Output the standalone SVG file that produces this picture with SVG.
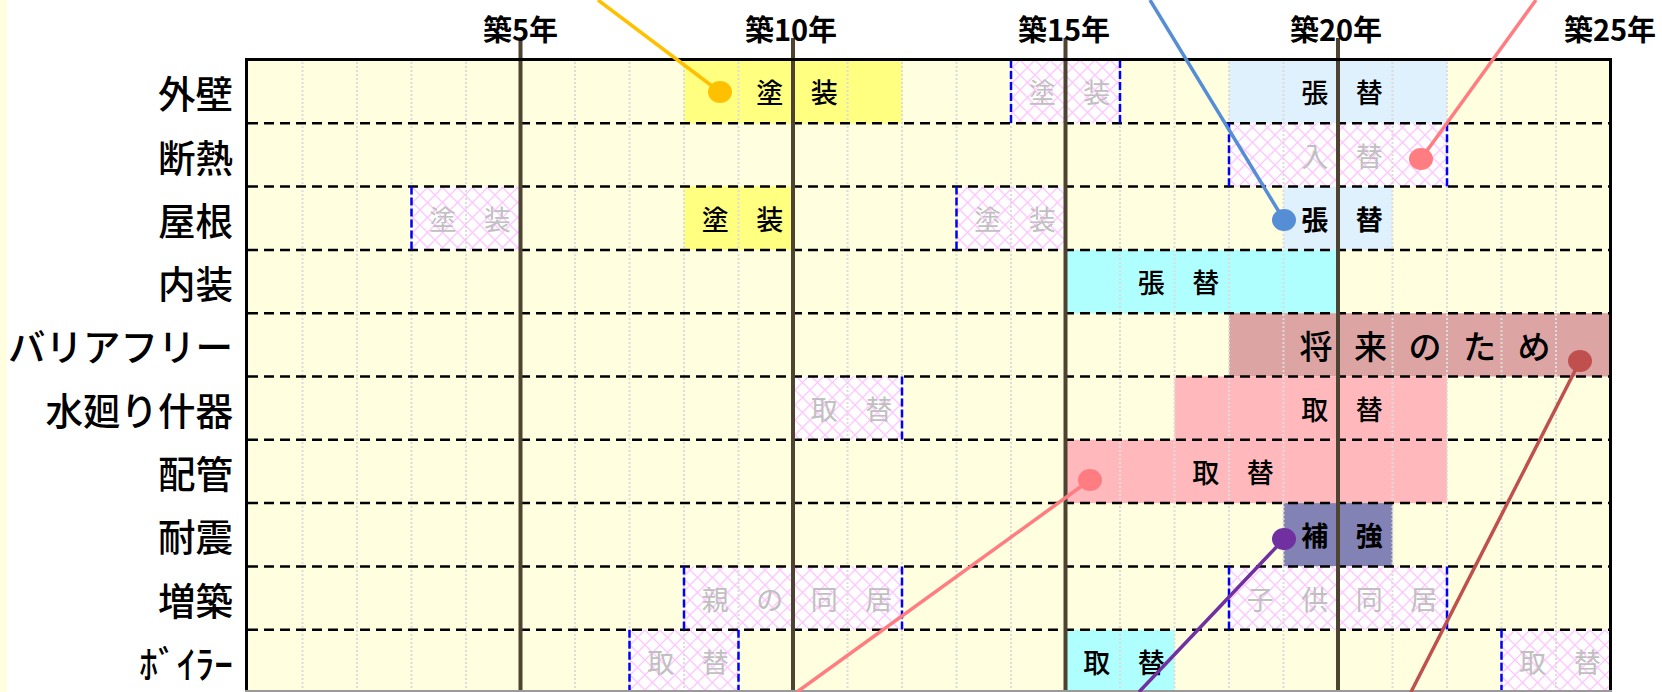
<svg xmlns="http://www.w3.org/2000/svg" width="1662" height="692" viewBox="0 0 1662 692">
<defs>
<pattern id="hatch" width="15" height="15" patternUnits="userSpaceOnUse">
<rect width="15" height="15" fill="#ffffff"/>
<path d="M0 0L15 15M15 0L0 15M-1 14L1 16M14 -1L16 1" stroke="#ffc6ff" stroke-width="1.3"/>
</pattern>
<style>
text{font-family:"Noto Sans CJK JP","Noto Sans CJK SC",sans-serif;dominant-baseline:central;}
.rl{font-size:37.5px;font-weight:500;text-anchor:end;fill:#000;}
.yl{font-size:29px;font-weight:700;text-anchor:middle;fill:#000;}
.bt{font-size:27px;font-weight:500;text-anchor:middle;fill:#000;}
.bb{font-weight:700;}
.gt{font-size:27px;text-anchor:middle;fill:#c0c0c0;}
.bg{font-size:33px;text-anchor:middle;fill:#000;font-weight:500;}
.yel{fill:#ffff80;}
.lb{fill:#dff1fc;}
.cy{fill:#b0ffff;}
.ro{fill:#dca5a3;}
.pk{fill:#ffb9bc;}
.sl{fill:#8282b4;}
.ht{fill:url(#hatch);}
.be{stroke:#0000ff;stroke-width:2.5;stroke-dasharray:8 3;}
.vd{stroke:#dcdcdc;stroke-width:2;stroke-dasharray:2 2;}
.hd{stroke:#000;stroke-width:2.5;stroke-dasharray:10 6;}
.yr{stroke:#4d4330;stroke-width:4;}
.cn{fill:none;stroke-width:3.5;}
</style>
</defs>
<rect x="0" y="0" width="1662" height="692" fill="#ffffff"/>
<rect x="0" y="0" width="7" height="692" fill="#ffffe0"/>
<rect x="247" y="60" width="1363" height="632" fill="#ffffe0"/>

<g id="bars">
<rect class="yel" x="684" y="60" width="218" height="63.3"/>
<rect class="ht" x="1011" y="60" width="109" height="63.3"/>
<rect class="lb" x="1229" y="60" width="218" height="63.3"/>
<rect class="ht" x="1229" y="123.3" width="218" height="63.3"/>
<rect class="ht" x="411.5" y="186.6" width="109" height="63.3"/>
<rect class="yel" x="684" y="186.6" width="109" height="63.3"/>
<rect class="ht" x="956.5" y="186.6" width="109" height="63.3"/>
<rect class="lb" x="1283.5" y="186.6" width="109" height="63.3"/>
<rect class="cy" x="1065.5" y="249.9" width="272.5" height="63.3"/>
<rect class="ro" x="1229" y="313.2" width="381.5" height="63.3"/>
<rect class="ht" x="793" y="376.5" width="109" height="63.3"/>
<rect class="pk" x="1174.5" y="376.5" width="272.5" height="63.3"/>
<rect class="pk" x="1065.5" y="439.8" width="381.5" height="63.3"/>
<rect class="sl" x="1283.5" y="503.1" width="109" height="63.3"/>
<rect class="ht" x="684" y="566.4" width="218" height="63.3"/>
<rect class="ht" x="1229" y="566.4" width="218" height="63.3"/>
<rect class="ht" x="629.5" y="629.7" width="109" height="63.3"/>
<rect class="cy" x="1065.5" y="629.7" width="109" height="63.3"/>
<rect class="ht" x="1501.5" y="629.7" width="109" height="63.3"/>
</g>

<g id="grid">
<g class="vd">
<line x1="302.5" y1="62" x2="302.5" y2="692"/>
<line x1="357" y1="62" x2="357" y2="692"/>
<line x1="411.5" y1="62" x2="411.5" y2="692"/>
<line x1="466" y1="62" x2="466" y2="692"/>
<line x1="575" y1="62" x2="575" y2="692"/>
<line x1="629.5" y1="62" x2="629.5" y2="692"/>
<line x1="684" y1="62" x2="684" y2="692"/>
<line x1="738.5" y1="62" x2="738.5" y2="692"/>
<line x1="847.5" y1="62" x2="847.5" y2="692"/>
<line x1="902" y1="62" x2="902" y2="692"/>
<line x1="956.5" y1="62" x2="956.5" y2="692"/>
<line x1="1011" y1="62" x2="1011" y2="692"/>
<line x1="1120" y1="62" x2="1120" y2="692"/>
<line x1="1174.5" y1="62" x2="1174.5" y2="692"/>
<line x1="1229" y1="62" x2="1229" y2="692"/>
<line x1="1283.5" y1="62" x2="1283.5" y2="692"/>
<line x1="1392.5" y1="62" x2="1392.5" y2="692"/>
<line x1="1447" y1="62" x2="1447" y2="692"/>
<line x1="1501.5" y1="62" x2="1501.5" y2="692"/>
<line x1="1556" y1="62" x2="1556" y2="692"/>
</g>
<g class="hd">
<line x1="248" y1="123.3" x2="1609" y2="123.3"/>
<line x1="248" y1="186.6" x2="1609" y2="186.6"/>
<line x1="248" y1="249.9" x2="1609" y2="249.9"/>
<line x1="248" y1="313.2" x2="1609" y2="313.2"/>
<line x1="248" y1="376.5" x2="1609" y2="376.5"/>
<line x1="248" y1="439.8" x2="1609" y2="439.8"/>
<line x1="248" y1="503.1" x2="1609" y2="503.1"/>
<line x1="248" y1="566.4" x2="1609" y2="566.4"/>
<line x1="248" y1="629.7" x2="1609" y2="629.7"/>
</g>
<g class="be">
<line x1="1011" y1="60" x2="1011" y2="123.3"/><line x1="1120" y1="60" x2="1120" y2="123.3"/>
<line x1="1229" y1="123.3" x2="1229" y2="186.6"/><line x1="1447" y1="123.3" x2="1447" y2="186.6"/>
<line x1="411.5" y1="186.6" x2="411.5" y2="249.9"/><line x1="520.5" y1="186.6" x2="520.5" y2="249.9"/>
<line x1="956.5" y1="186.6" x2="956.5" y2="249.9"/><line x1="1065.5" y1="186.6" x2="1065.5" y2="249.9"/>
<line x1="793" y1="376.5" x2="793" y2="439.8"/><line x1="902" y1="376.5" x2="902" y2="439.8"/>
<line x1="684" y1="566.4" x2="684" y2="629.7"/><line x1="902" y1="566.4" x2="902" y2="629.7"/>
<line x1="1229" y1="566.4" x2="1229" y2="629.7"/><line x1="1447" y1="566.4" x2="1447" y2="629.7"/>
<line x1="629.5" y1="629.7" x2="629.5" y2="692"/><line x1="738.5" y1="629.7" x2="738.5" y2="692"/>
<line x1="1501.5" y1="629.7" x2="1501.5" y2="692"/>
</g>
</g>

<g id="years">
<line class="yr" x1="520.5" y1="38" x2="520.5" y2="692"/>
<line class="yr" x1="793" y1="38" x2="793" y2="692"/>
<line class="yr" x1="1065.5" y1="38" x2="1065.5" y2="692"/>
<line class="yr" x1="1338" y1="38" x2="1338" y2="692"/>
<text class="yl" x="520.5" y="28">築5年</text>
<text class="yl" x="791" y="28">築10年</text>
<text class="yl" x="1064" y="28">築15年</text>
<text class="yl" x="1336" y="28">築20年</text>
<text class="yl" x="1610" y="28">築25年</text>
</g>

<g id="frame" fill="none">
<line x1="245" y1="59.5" x2="1612" y2="59.5" stroke="#000" stroke-width="3"/>
<line x1="246.5" y1="58" x2="246.5" y2="692" stroke="#000" stroke-width="3"/>
<line x1="1610.5" y1="58" x2="1610.5" y2="692" stroke="#000" stroke-width="3"/>
<line x1="245" y1="691" x2="1612" y2="691" stroke="#999" stroke-width="2"/>
</g>

<g id="row-gaiheki">
<text class="rl" x="233" y="91.7">外壁</text>
<text class="bt" x="769.75" y="91.7">塗</text><text class="bt" x="824.25" y="91.7">装</text>
<text class="gt" x="1042.25" y="91.7">塗</text><text class="gt" x="1096.75" y="91.7">装</text>
<text class="bt" x="1314.75" y="91.7">張</text><text class="bt" x="1369.25" y="91.7">替</text>
</g>
<g id="row-dannetsu">
<text class="rl" x="233" y="155">断熱</text>
<text class="gt" x="1314.75" y="155">入</text><text class="gt" x="1369.25" y="155">替</text>
</g>
<g id="row-yane">
<text class="rl" x="233" y="218.3">屋根</text>
<text class="gt" x="442.75" y="218.3">塗</text><text class="gt" x="497.25" y="218.3">装</text>
<text class="bt" x="715.25" y="218.3">塗</text><text class="bt" x="769.75" y="218.3">装</text>
<text class="gt" x="987.75" y="218.3">塗</text><text class="gt" x="1042.25" y="218.3">装</text>
<text class="bt bb" x="1314.75" y="218.3">張</text><text class="bt bb" x="1369.25" y="218.3">替</text>
</g>
<g id="row-naisou">
<text class="rl" x="233" y="281.6">内装</text>
<text class="bt" x="1151.25" y="281.6">張</text><text class="bt" x="1205.75" y="281.6">替</text>
</g>
<g id="row-barrierfree">
<text class="rl" x="233" y="344.9">バリアフリー</text>
<text class="bg" x="1316" y="344.9">将</text><text class="bg" x="1370.5" y="344.9">来</text><text class="bg" x="1425" y="344.9">の</text><text class="bg" x="1479.5" y="344.9">た</text><text class="bg" x="1534" y="344.9">め</text>
</g>
<g id="row-mizumawari">
<text class="rl" x="233" y="408.2">水廻り什器</text>
<text class="gt" x="824.25" y="408.2">取</text><text class="gt" x="878.75" y="408.2">替</text>
<text class="bt" x="1314.75" y="408.2">取</text><text class="bt" x="1369.25" y="408.2">替</text>
</g>
<g id="row-haikan">
<text class="rl" x="233" y="471.5">配管</text>
<text class="bt" x="1205.75" y="471.5">取</text><text class="bt" x="1260.25" y="471.5">替</text>
</g>
<g id="row-taishin">
<text class="rl" x="233" y="534.8">耐震</text>
<text class="bt bb" x="1314.75" y="534.8">補</text><text class="bt bb" x="1369.25" y="534.8">強</text>
</g>
<g id="row-zouchiku">
<text class="rl" x="233" y="598.1">増築</text>
<text class="gt" x="715.25" y="598.1">親</text><text class="gt" x="769.75" y="598.1">の</text><text class="gt" x="824.25" y="598.1">同</text><text class="gt" x="878.75" y="598.1">居</text>
<text class="gt" x="1260.25" y="598.1">子</text><text class="gt" x="1314.75" y="598.1">供</text><text class="gt" x="1369.25" y="598.1">同</text><text class="gt" x="1423.75" y="598.1">居</text>
</g>
<g id="row-boiler">
<text class="rl" x="233" y="661.4">ﾎﾞｲﾗｰ</text>
<text class="gt" x="660.75" y="661.4">取</text><text class="gt" x="715.25" y="661.4">替</text>
<text class="bt" x="1096.75" y="661.4">取</text><text class="bt" x="1151.25" y="661.4">替</text>
<text class="gt" x="1532.75" y="661.4">取</text><text class="gt" x="1587.25" y="661.4">替</text>
</g>

<g id="connectors">
<line class="cn" x1="598" y1="0" x2="720" y2="92" stroke="#ffc000"/>
<ellipse cx="720" cy="92" rx="12" ry="11" fill="#ffc000"/>
<line class="cn" x1="1150" y1="0" x2="1284" y2="220" stroke="#558ed5"/>
<ellipse cx="1284" cy="220" rx="12" ry="11" fill="#558ed5"/>
<line class="cn" x1="1536" y1="0" x2="1421" y2="159" stroke="#ff7c80"/>
<ellipse cx="1421" cy="159" rx="12" ry="11" fill="#ff7c80"/>
<line class="cn" x1="1411" y1="692" x2="1580" y2="361" stroke="#c0504d"/>
<ellipse cx="1580" cy="361" rx="12" ry="11" fill="#c0504d"/>
<line class="cn" x1="797" y1="692" x2="1090" y2="480" stroke="#ff7c80"/>
<ellipse cx="1090" cy="480" rx="12" ry="11" fill="#ff7c80"/>
<line class="cn" x1="1139" y1="692" x2="1284" y2="539" stroke="#7030a0"/>
<ellipse cx="1284" cy="539" rx="12" ry="11" fill="#7030a0"/>
</g>
</svg>
